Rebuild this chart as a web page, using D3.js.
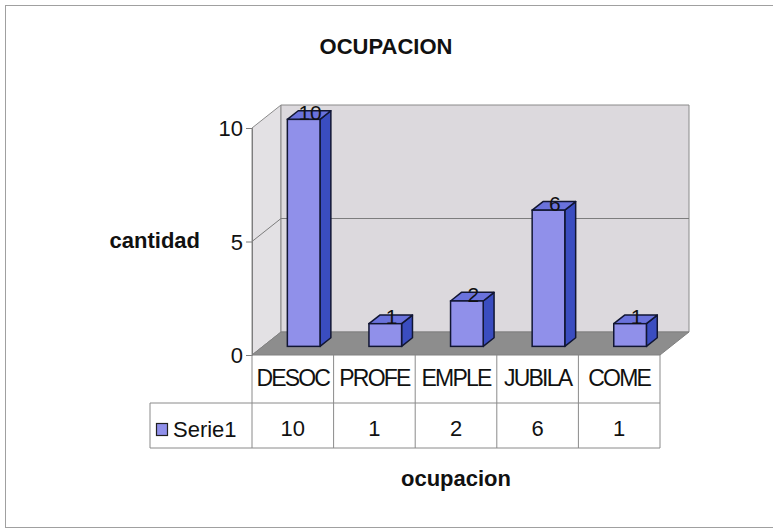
<!DOCTYPE html>
<html>
<head>
<meta charset="utf-8">
<script src="https://cdn.jsdelivr.net/npm/d3@7"></script>
<style>
  body { margin: 0; background: #fff; }
  text { font-family: "Liberation Sans", Arial, sans-serif; fill: #111; }
</style>
</head>
<body>
<svg id="chart" width="773" height="530"></svg>
<script>
const categories = ["DESOC", "PROFE", "EMPLE", "JUBILA", "COME"];
const values = [10, 1, 2, 6, 1];
const seriesName = "Serie1";
const yTicks = [0, 5, 10];

const svg = d3.select("#chart");

// outer frame
svg.append("rect")
  .attr("x", 5.5).attr("y", 5.5)
  .attr("width", 775).attr("height", 522)
  .attr("fill", "#fff")
  .attr("stroke", "#a0a0a0");

// scales (front plane)
const x = d3.scaleBand().domain(categories).range([252, 660])
  .paddingInner(0.6).paddingOuter(0.3);
const y = d3.scaleLinear().domain([0, 10]).range([355, 128]);

// depth of the 3D box
const DX = 29, DY = -23;
const x0 = 252, x1 = 660;

const pts = a => a.map(p => p.join(",")).join(" ");

// === WALLS ===
// left side wall
svg.append("polygon")
  .attr("points", pts([[x0, y(10)], [x0 + DX, y(10) + DY], [x0 + DX, y(0) + DY], [x0, y(0)]]))
  .attr("fill", "#e3e1e4").attr("stroke", "#8a8a8a");

// back wall
svg.append("polygon")
  .attr("points", pts([[x0 + DX, y(10) + DY], [x1 + DX, y(10) + DY], [x1 + DX, y(0) + DY], [x0 + DX, y(0) + DY]]))
  .attr("fill", "#dcd9dd").attr("stroke", "#8a8a8a");

// floor
svg.append("polygon")
  .attr("points", pts([[x0, y(0)], [x1, y(0)], [x1 + DX, y(0) + DY], [x0 + DX, y(0) + DY]]))
  .attr("fill", "#8d8d8d").attr("stroke", "#808080");

// gridlines (only the inner one shows as a line)
const grid = yTicks.filter(t => t > 0 && t < 10);
svg.selectAll(".grid")
  .data(grid)
  .join("polyline")
  .attr("fill", "none")
  .attr("stroke", "#7d7d7d")
  .attr("points", d => pts([[x0, y(d)], [x0 + DX, y(d) + DY], [x1 + DX, y(d) + DY]]));

// y axis: front edge + ticks
const yAxis = d3.axisLeft(y).tickValues(yTicks).tickSize(6).tickPadding(3);
const axG = svg.append("g").attr("transform", `translate(${x0},0)`).call(yAxis);
axG.select(".domain").attr("stroke", "#7d7d7d");
axG.selectAll(".tick line").attr("stroke", "#7d7d7d");
axG.selectAll(".tick text")
  .attr("font-size", 22)
  .attr("font-family", "Liberation Sans, Arial, sans-serif")
  .attr("fill", "#111")
  .attr("dy", "0.36em");

// === BARS ===
const f0 = 0.375, f1 = 0.75;
const bars = categories.map((c, i) => ({ c, v: values[i] }));

const barG = svg.selectAll(".bar")
  .data(bars)
  .join("g")
  .attr("class", "bar");

barG.each(function (d) {
  const g = d3.select(this);
  const bx = x(d.c), bw = x.bandwidth();
  const ox = DX * f0, oy = DY * f0;
  const dx = DX * (f1 - f0), dy = DY * (f1 - f0);
  const L = bx + ox, R = bx + bw + ox;
  const T = y(d.v) + oy, B = y(0) + oy;

  // right side
  g.append("polygon")
    .attr("points", pts([[R, T], [R + dx, T + dy], [R + dx, B + dy], [R, B]]))
    .attr("fill", "#3a4dc0").attr("stroke", "#111633").attr("stroke-width", 1.5)
    .attr("stroke-linejoin", "round");
  // top
  g.append("polygon")
    .attr("points", pts([[L, T], [R, T], [R + dx, T + dy], [L + dx, T + dy]]))
    .attr("fill", "#6a72dc").attr("stroke", "#111633").attr("stroke-width", 1.5)
    .attr("stroke-linejoin", "round");
  // front
  g.append("rect")
    .attr("x", L).attr("y", T)
    .attr("width", bw).attr("height", B - T)
    .attr("fill", "#9090ea").attr("stroke", "#111633").attr("stroke-width", 1.5);

  // value label
  g.append("text")
    .attr("x", (L + R) / 2 + dx / 2 + 1)
    .attr("y", T + dy / 2 + 5)
    .attr("text-anchor", "middle")
    .attr("font-size", 21)
    .attr("fill", "#222")
    .text(d.v);
});

// === DATA TABLE ===
const rowTop = y(0), rowMid = 403, rowBot = 448, legL = 150;
const lineCol = "#8a8a8a";
const edges = [x0, ...categories.slice(1).map((c, i) => x0 + x.step() * (i + 1)), x1];

const table = svg.append("g").attr("stroke", lineCol).attr("fill", "none");
edges.forEach(e => {
  table.append("line").attr("x1", e).attr("x2", e).attr("y1", rowTop).attr("y2", rowBot);
});
table.append("line").attr("x1", legL).attr("x2", x1).attr("y1", rowMid).attr("y2", rowMid);
table.append("line").attr("x1", legL).attr("x2", x1).attr("y1", rowBot).attr("y2", rowBot);
table.append("line").attr("x1", legL).attr("x2", legL).attr("y1", rowMid).attr("y2", rowBot);

const colCenter = c => x(c) + x.bandwidth() / 2;

svg.selectAll(".cat")
  .data(categories)
  .join("text")
  .attr("class", "cat")
  .attr("x", colCenter)
  .attr("y", 386)
  .attr("text-anchor", "middle")
  .attr("font-size", 23)
  .attr("letter-spacing", -1.8)
  .text(d => d);

svg.selectAll(".val")
  .data(bars)
  .join("text")
  .attr("class", "val")
  .attr("x", d => colCenter(d.c))
  .attr("y", 436)
  .attr("text-anchor", "middle")
  .attr("font-size", 22)
  .text(d => d.v);

// legend key
svg.append("rect")
  .attr("x", 156.5).attr("y", 423.5)
  .attr("width", 11).attr("height", 12)
  .attr("fill", "#9090ea").attr("stroke", "#222").attr("stroke-width", 1.2);
svg.append("text")
  .attr("x", 173).attr("y", 437)
  .attr("font-size", 22)
  .text(seriesName);

// === TITLES ===
svg.append("text")
  .attr("x", 386).attr("y", 54)
  .attr("text-anchor", "middle")
  .attr("font-size", 22).attr("font-weight", "bold")
  .text("OCUPACION");

svg.append("text")
  .attr("x", 200).attr("y", 248)
  .attr("text-anchor", "end")
  .attr("font-size", 22).attr("font-weight", "bold")
  .text("cantidad");

svg.append("text")
  .attr("x", (x0 + x1) / 2).attr("y", 486)
  .attr("text-anchor", "middle")
  .attr("font-size", 22).attr("font-weight", "bold")
  .text("ocupacion");
</script>
</body>
</html>
